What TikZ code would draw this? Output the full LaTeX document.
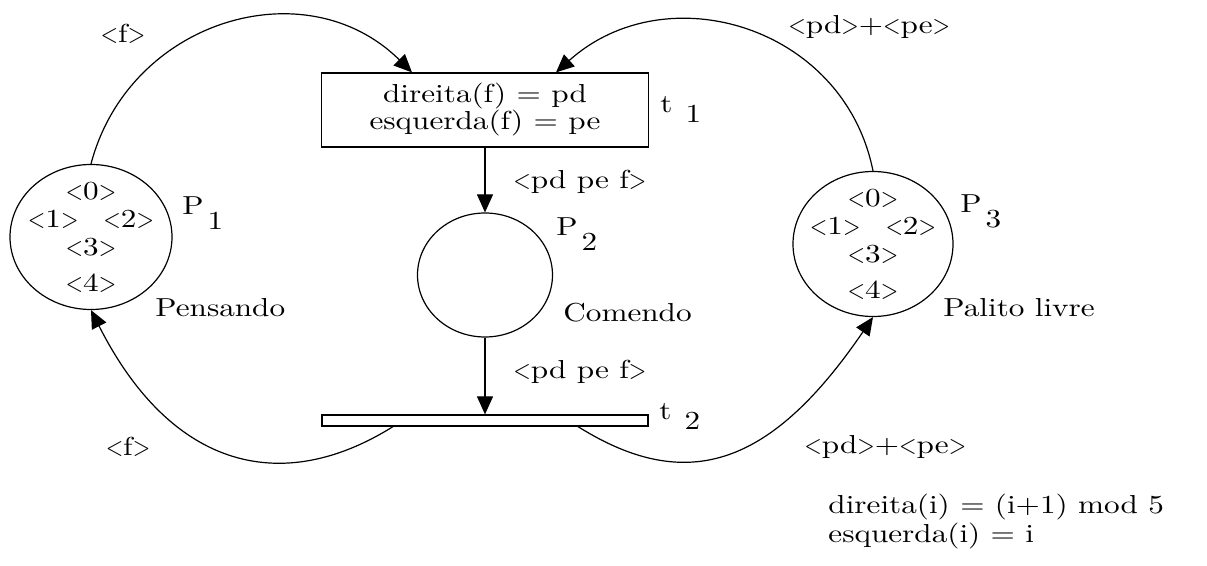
\documentclass[tikz,border=0pt]{standalone}
\usepackage{fontspec}
\setmainfont{lmroman10-regular.otf}[FakeStretch=1.2]
\usepackage{graphicx}
\usepackage{tikz}
\usetikzlibrary{shapes.geometric, arrows.meta, positioning, calc}

\newcommand{\ob}{\scalebox{0.72}[1]{<}}
\newcommand{\cb}{\scalebox{0.72}[1]{>}}
\newcommand{\tok}[1]{\ob#1\cb}
\newcommand{\plab}[1]{P\hspace{2pt}\raisebox{-7.5pt}{#1}}
\newcommand{\tlab}[1]{t\hspace{6.5pt}\raisebox{-5pt}{#1}}

\begin{document}
\begin{tikzpicture}[x=0.5pt, y=0.5pt,
    font=\fontsize{13}{14}\selectfont,
    place/.style={draw, ellipse, line width=0.6pt, inner sep=0pt},
    trans/.style={draw, rectangle, line width=0.6pt, inner sep=0pt},
    arc/.style={line width=0.6pt, -{Triangle[length=9pt, width=8pt]}},
    lbl/.style={inner sep=0pt},
    tokens/.style={align=center, inner sep=0pt}]
\useasboundingbox (0,0) rectangle (1207,-566);

% lugares
\node[place, minimum width=81pt, minimum height=72.5pt] (p1) at (91,-237) {};
\node[place, minimum width=67.5pt, minimum height=62pt] (p2) at (485,-275) {};
\node[place, minimum width=80pt, minimum height=72.5pt] (p3) at (873,-244) {};

\node[tokens] (m1) at (p1) {\tok{0}\\\tok{1}\hspace{12.5pt}\tok{2}\\\tok{3}\\[4pt]\tok{4}};
\node[tokens] (m3) at (p3) {\tok{0}\\\tok{1}\hspace{12.5pt}\tok{2}\\\tok{3}\\[4pt]\tok{4}};

% transicoes
\node[trans, minimum width=163.5pt, minimum height=37pt, align=center,
      font=\fontsize{13}{13.5}\selectfont] (t1) at (485,-110) {direita(f) = pd\\esquerda(f) = pe};
\node[trans, minimum width=163pt, minimum height=5.5pt] (t2) at (485,-420.5) {};

% nomes
\node[lbl, anchor=base west] (p1name) at (182,-215) {\plab{1}};
\node[lbl, anchor=base west] (p2name) at (556,-236) {\plab{2}};
\node[lbl, anchor=base west] (p3name) at (960,-213) {\plab{3}};
\node[lbl, anchor=base west] (t1name) at (660,-113) {\tlab{1}};
\node[lbl, anchor=base west] (t2name) at (659,-420) {\tlab{2}};

\node[lbl, anchor=west] (pens) at (155,-308) {Pensando};
\node[lbl, anchor=west] (come) at (563,-313) {Comendo};
\node[lbl, anchor=west] (pali) at (943,-308) {Palito livre};

% arcos
\draw[arc] (t1.south) -- (p2.north);
\draw[arc] (p2.south) -- (t2.north);
\draw[arc] (p1.north) .. controls +(38,144) and +(-106,105) .. ([xshift=-36.5pt]t1.north);
\draw[arc] (p3.north) .. controls +(-29,145) and +(110,99) .. ([xshift=35.5pt]t1.north);
\draw[arc] ([xshift=-46pt]t2.south) .. controls +(-110,-69) and +(81,-160) .. (p1.south);
\draw[arc] ([xshift=46.5pt]t2.south) .. controls +(110,-69) and +(-101,-148) .. (p3.south);

% inscricoes
\node[lbl] (f1) at (123,-34) {\tok{f}};
\node[lbl] (f2) at (128,-447) {\tok{f}};
\node[lbl, anchor=west] (pp1) at (788,-27) {\tok{pd}+\tok{pe}};
\node[lbl, anchor=west] (pp2) at (804,-447) {\tok{pd}+\tok{pe}};
\node[lbl, anchor=west] (pf1) at (513,-182) {\tok{pd pe f}};
\node[lbl, anchor=west] (pf2) at (513,-372) {\tok{pd pe f}};

\node[lbl, anchor=west, align=left, font=\fontsize{13}{14.5}\selectfont] (defs) at (828,-522)
    {direita(i) = (i+1) mod 5\\esquerda(i) = i};
\end{tikzpicture}
\end{document}
